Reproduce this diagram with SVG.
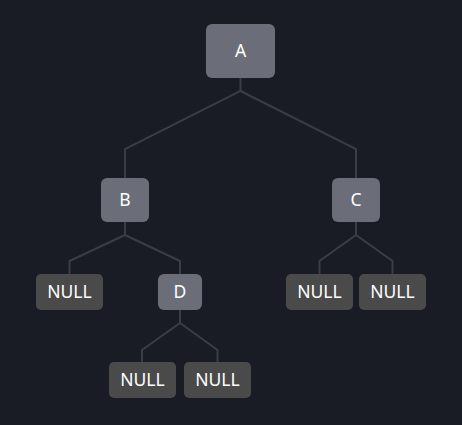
<svg xmlns="http://www.w3.org/2000/svg" width="462" height="425" viewBox="0 0 462 425">
<style>
.bg{fill:#191b25}
.n{fill:#6b6e79}
.z{fill:#4a4a4a}
.t{fill:#ffffff;font-family:"Noto Sans","Open Sans",sans-serif;font-size:17.5px;text-anchor:middle}
.e{fill:none;stroke:#3a3c47;stroke-width:2}
</style>
<rect class="bg" x="0" y="0" width="462" height="425"/>
<g id="connectors">
<path class="e" d="M240.5 78V91L125 149V178M240.5 91L356 149V178"/>
<path class="e" d="M125 222V235L69.5 261V274M125 235L180 261V274"/>
<path class="e" d="M356 222V235L319.5 261V274M356 235L392.5 261V274"/>
<path class="e" d="M180 310V323L142 350V362M180 323L217.5 350V362"/>
</g>
<g id="A"><rect class="n" x="206" y="24" width="69" height="54" rx="6"/><text class="t" x="240.5" y="57.3">A</text></g>
<g id="B"><rect class="n" x="101" y="178" width="48" height="44" rx="6"/><text class="t" x="125" y="206.3">B</text></g>
<g id="C"><rect class="n" x="332" y="178" width="48" height="44" rx="6"/><text class="t" x="356" y="206.3">C</text></g>
<g id="D"><rect class="n" x="158" y="274" width="44" height="36" rx="6"/><text class="t" x="180" y="298.3">D</text></g>
<g id="null1"><rect class="z" x="36" y="274" width="67" height="36" rx="5"/><text class="t" x="69.5" y="298.3">NULL</text></g>
<g id="null2"><rect class="z" x="109" y="362" width="67" height="36" rx="5"/><text class="t" x="142.5" y="386.3">NULL</text></g>
<g id="null3"><rect class="z" x="184" y="362" width="67" height="36" rx="5"/><text class="t" x="217.5" y="386.3">NULL</text></g>
<g id="null4"><rect class="z" x="286" y="274" width="67" height="36" rx="5"/><text class="t" x="319.5" y="298.3">NULL</text></g>
<g id="null5"><rect class="z" x="359" y="274" width="67" height="36" rx="5"/><text class="t" x="392.5" y="298.3">NULL</text></g>
</svg>
